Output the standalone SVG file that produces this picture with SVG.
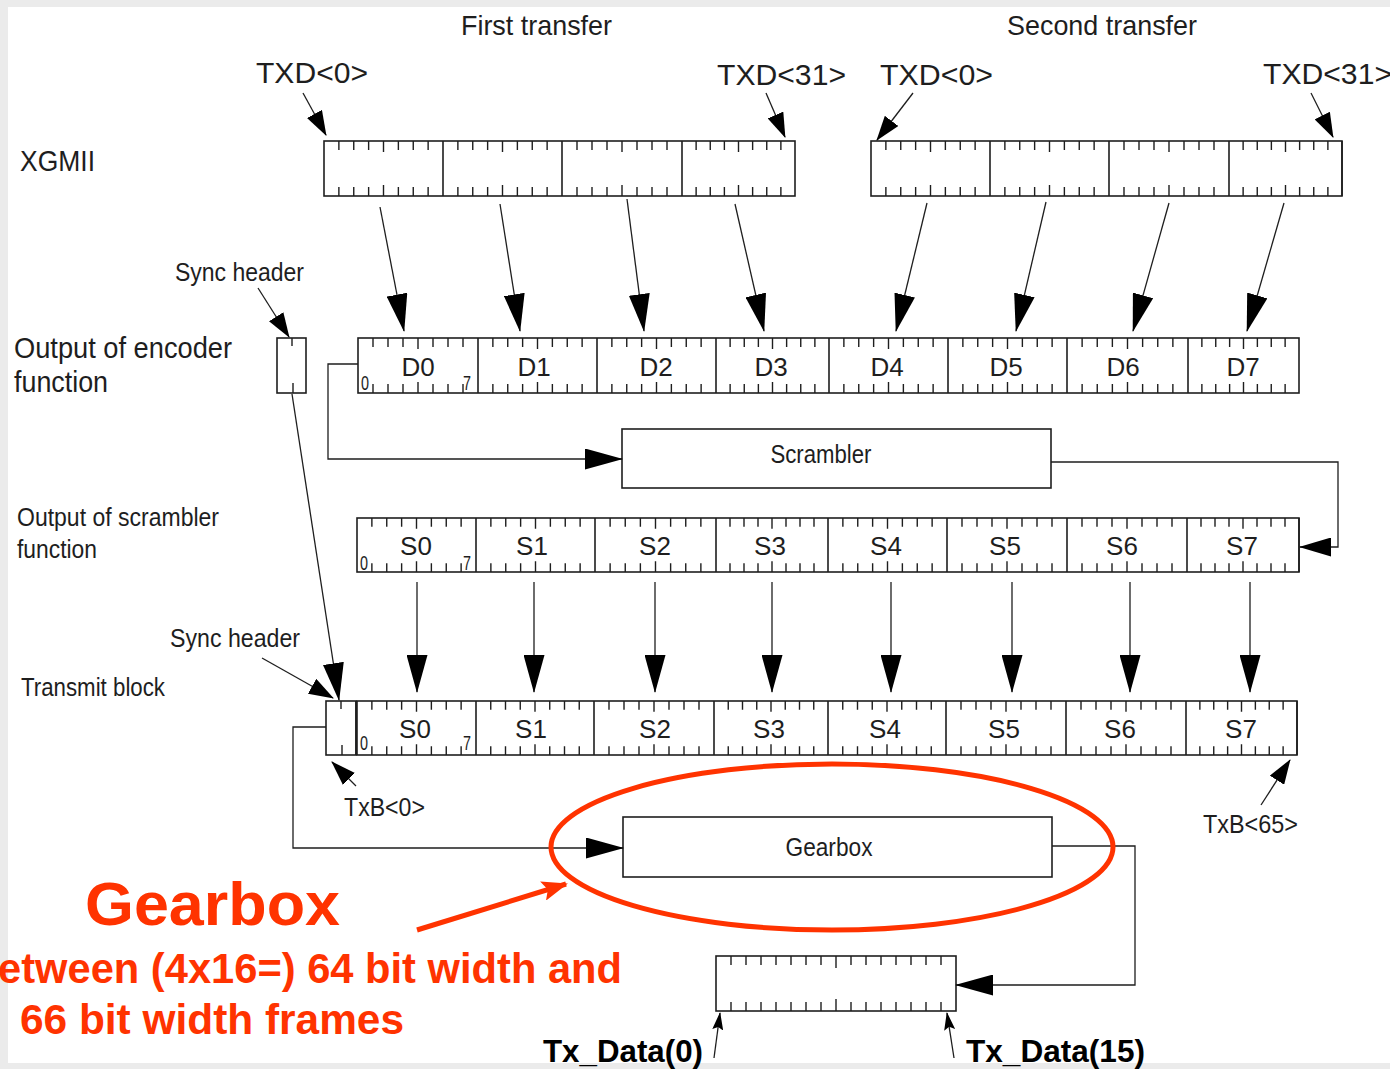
<svg xmlns="http://www.w3.org/2000/svg" xmlns:xlink="http://www.w3.org/1999/xlink" width="1390" height="1069" viewBox="0 0 1390 1069">
<defs>
<style>
.box{fill:#fff;stroke:#1e1e1e;stroke-width:1.6}
.dv{stroke:#1e1e1e;stroke-width:1.6;fill:none}
.tk{stroke:#1e1e1e;stroke-width:1.4;fill:none}
.t{font-family:"Liberation Sans",Arial,Helvetica,sans-serif;fill:#1e1e1e}
.n{font-size:21px}
.c{stroke:#1e1e1e;stroke-width:1.3;fill:none}
.red{fill:#ff3300;font-family:"Liberation Sans",Arial,Helvetica,sans-serif;font-weight:bold}
.bk{fill:#000;font-family:"Liberation Sans",Arial,Helvetica,sans-serif;font-weight:bold}
</style>
<g id="bt"><path class="tk" vector-effect="non-scaling-stroke" d="M15,0v9M30,0v9M45,0v9M60,0v11M75,0v9M90,0v9M105,0v9M15,55v-9M30,55v-9M45,55v-9M60,55v-11M75,55v-9M90,55v-9M105,55v-9"/></g>
<marker id="big" markerUnits="userSpaceOnUse" viewBox="0 0 38 21" markerWidth="38" markerHeight="21" refX="37" refY="10.5" orient="auto"><path d="M0,0L38,10.5L0,21z" fill="#000"/></marker>
<marker id="med" markerUnits="userSpaceOnUse" viewBox="0 0 32 19" markerWidth="32" markerHeight="19" refX="31" refY="9.5" orient="auto"><path d="M0,0L32,9.5L0,19z" fill="#000"/></marker>
<marker id="sm" markerUnits="userSpaceOnUse" viewBox="0 0 25 17" markerWidth="25" markerHeight="17" refX="24" refY="8.5" orient="auto"><path d="M0,0L25,8.5L0,17z" fill="#000"/></marker>
<marker id="tiny" markerUnits="userSpaceOnUse" viewBox="0 0 18 11" markerWidth="18" markerHeight="11" refX="17" refY="5.5" orient="auto"><path d="M0,0L18,5.5L0,11L3,5.5z" fill="#000"/></marker>
<marker id="redm" markerUnits="userSpaceOnUse" viewBox="0 0 26 20" markerWidth="26" markerHeight="20" refX="24" refY="10" orient="auto"><path d="M0,0L26,10L0,20L5,10z" fill="#ff3300"/></marker>
</defs>

<rect x="0" y="0" width="1390" height="1069" fill="#ebebeb"/>
<rect x="8" y="7" width="1382" height="1056" fill="#fff"/>

<g id="labels">
<text class="t" x="461" y="35" font-size="28" textLength="151" lengthAdjust="spacingAndGlyphs">First transfer</text>
<text class="t" x="1007" y="35" font-size="28" textLength="190" lengthAdjust="spacingAndGlyphs">Second transfer</text>
<text class="t" x="256" y="83" font-size="29" textLength="112" lengthAdjust="spacingAndGlyphs">TXD&lt;0&gt;</text>
<text class="t" x="717" y="85" font-size="29" textLength="129" lengthAdjust="spacingAndGlyphs">TXD&lt;31&gt;</text>
<text class="t" x="880" y="85" font-size="29" textLength="113" lengthAdjust="spacingAndGlyphs">TXD&lt;0&gt;</text>
<text class="t" x="1263" y="84" font-size="29" textLength="129" lengthAdjust="spacingAndGlyphs">TXD&lt;31&gt;</text>
<text class="t" x="20" y="171" font-size="29" textLength="75" lengthAdjust="spacingAndGlyphs">XGMII</text>
<text class="t" x="175" y="281" font-size="25" textLength="129" lengthAdjust="spacingAndGlyphs">Sync header</text>
<text class="t" x="14" y="358" font-size="29" textLength="218" lengthAdjust="spacingAndGlyphs">Output of encoder</text>
<text class="t" x="14" y="392" font-size="29" textLength="94" lengthAdjust="spacingAndGlyphs">function</text>
<text class="t" x="17" y="526" font-size="25" textLength="202" lengthAdjust="spacingAndGlyphs">Output of scrambler</text>
<text class="t" x="17" y="558" font-size="25" textLength="80" lengthAdjust="spacingAndGlyphs">function</text>
<text class="t" x="170" y="647" font-size="25" textLength="130" lengthAdjust="spacingAndGlyphs">Sync header</text>
<text class="t" x="21" y="696" font-size="25" textLength="144" lengthAdjust="spacingAndGlyphs">Transmit block</text>
<text class="t" x="344" y="816" font-size="25" textLength="81" lengthAdjust="spacingAndGlyphs">TxB&lt;0&gt;</text>
<text class="t" x="1203" y="833" font-size="25" textLength="95" lengthAdjust="spacingAndGlyphs">TxB&lt;65&gt;</text>
</g>

<g id="xgmii-first">
<rect class="box" x="324" y="141" width="471" height="55"/>
<path class="dv" d="M443,141V196M562,141V196M682,141V196"/>
<use xlink:href="#bt" transform="translate(324,141) scale(0.9917,1)"/>
<use xlink:href="#bt" transform="translate(443,141) scale(0.9917,1)"/>
<use xlink:href="#bt" transform="translate(562,141)"/>
<use xlink:href="#bt" transform="translate(682,141) scale(0.9417,1)"/>
</g>

<g id="xgmii-second">
<rect class="box" x="871" y="141" width="471" height="55"/>
<path class="dv" d="M990,141V196M1109,141V196M1229,141V196"/>
<path class="dv" stroke-width="2.4" d="M1342,141V196"/>
<use xlink:href="#bt" transform="translate(871,141) scale(0.9917,1)"/>
<use xlink:href="#bt" transform="translate(990,141) scale(0.9917,1)"/>
<use xlink:href="#bt" transform="translate(1109,141)"/>
<use xlink:href="#bt" transform="translate(1229,141) scale(0.9417,1)"/>
</g>

<g id="encoder-sync">
<rect class="box" x="277" y="338" width="29" height="55"/>
<path class="tk" d="M292,338v8M293,393v-10"/>
</g>

<g id="encoder-out">
<rect class="box" x="358" y="338" width="941" height="55"/>
<path class="dv" d="M478,338V393M597,338V393M716,338V393M829,338V393M948,338V393M1067,338V393M1188,338V393"/>
<use xlink:href="#bt" transform="translate(358,338)"/>
<use xlink:href="#bt" transform="translate(478,338) scale(0.9917,1)"/>
<use xlink:href="#bt" transform="translate(597,338) scale(0.9917,1)"/>
<use xlink:href="#bt" transform="translate(716,338) scale(0.9417,1)"/>
<use xlink:href="#bt" transform="translate(829,338) scale(0.9917,1)"/>
<use xlink:href="#bt" transform="translate(948,338) scale(0.9917,1)"/>
<use xlink:href="#bt" transform="translate(1067,338) scale(1.0083,1)"/>
<use xlink:href="#bt" transform="translate(1188,338) scale(0.925,1)"/>
<g class="t" font-size="26" text-anchor="middle">
<text x="418" y="376">D0</text><text x="534" y="376">D1</text><text x="656" y="376">D2</text><text x="771" y="376">D3</text>
<text x="887" y="376">D4</text><text x="1006" y="376">D5</text><text x="1123" y="376">D6</text><text x="1243" y="376">D7</text>
</g>
<text class="t n" x="361" y="390" textLength="8" lengthAdjust="spacingAndGlyphs">0</text>
<text class="t n" x="463" y="390" textLength="8" lengthAdjust="spacingAndGlyphs">7</text>
</g>

<g id="scrambler">
<rect class="box" x="622" y="429" width="429" height="59"/>
<text class="t" x="821" y="463" font-size="25" text-anchor="middle" textLength="101" lengthAdjust="spacingAndGlyphs">Scrambler</text>
</g>

<g id="scrambler-out">
<rect class="box" x="357" y="518" width="942" height="54"/>
<path class="dv" d="M476,518V572M595,518V572M716,518V572M828,518V572M947,518V572M1067,518V572M1187,518V572"/>
<path class="dv" stroke-width="2.4" d="M1299,518V572"/>
<use xlink:href="#bt" transform="translate(357,518) scale(0.9917,0.9818)"/>
<use xlink:href="#bt" transform="translate(476,518) scale(0.9917,0.9818)"/>
<use xlink:href="#bt" transform="translate(595,518) scale(1.0083,0.9818)"/>
<use xlink:href="#bt" transform="translate(716,518) scale(0.9333,0.9818)"/>
<use xlink:href="#bt" transform="translate(828,518) scale(0.9917,0.9818)"/>
<use xlink:href="#bt" transform="translate(947,518) scale(1,0.9818)"/>
<use xlink:href="#bt" transform="translate(1067,518) scale(1,0.9818)"/>
<use xlink:href="#bt" transform="translate(1187,518) scale(0.9333,0.9818)"/>
<g class="t" font-size="26" text-anchor="middle">
<text x="416" y="555">S0</text><text x="532" y="555">S1</text><text x="655" y="555">S2</text><text x="770" y="555">S3</text>
<text x="886" y="555">S4</text><text x="1005" y="555">S5</text><text x="1122" y="555">S6</text><text x="1242" y="555">S7</text>
</g>
<text class="t n" x="360" y="570" textLength="8" lengthAdjust="spacingAndGlyphs">0</text>
<text class="t n" x="463" y="570" textLength="8" lengthAdjust="spacingAndGlyphs">7</text>
</g>

<g id="transmit-sync">
<rect class="box" x="326" y="701" width="30" height="54"/>
<path class="tk" d="M341,701v8M342,755v-10"/>
<path class="dv" stroke-width="2.6" d="M356,701V755"/>
</g>

<g id="transmit-block">
<rect class="box" x="357" y="701" width="940" height="54"/>
<path class="dv" d="M476,701V755M594,701V755M714,701V755M828,701V755M946,701V755M1066,701V755M1186,701V755"/>
<path class="dv" stroke-width="2.6" d="M1297,701V755"/>
<use xlink:href="#bt" transform="translate(357,701) scale(0.9917,0.9818)"/>
<use xlink:href="#bt" transform="translate(476,701) scale(0.9833,0.9818)"/>
<use xlink:href="#bt" transform="translate(594,701) scale(1,0.9818)"/>
<use xlink:href="#bt" transform="translate(714,701) scale(0.95,0.9818)"/>
<use xlink:href="#bt" transform="translate(828,701) scale(0.9833,0.9818)"/>
<use xlink:href="#bt" transform="translate(946,701) scale(1,0.9818)"/>
<use xlink:href="#bt" transform="translate(1066,701) scale(1,0.9818)"/>
<use xlink:href="#bt" transform="translate(1186,701) scale(0.925,0.9818)"/>
<g class="t" font-size="26" text-anchor="middle">
<text x="415" y="738">S0</text><text x="531" y="738">S1</text><text x="655" y="738">S2</text><text x="769" y="738">S3</text>
<text x="885" y="738">S4</text><text x="1004" y="738">S5</text><text x="1120" y="738">S6</text><text x="1241" y="738">S7</text>
</g>
<text class="t n" x="360" y="750" textLength="8" lengthAdjust="spacingAndGlyphs">0</text>
<text class="t n" x="463" y="750" textLength="8" lengthAdjust="spacingAndGlyphs">7</text>
</g>

<g id="gearbox">
<rect class="box" x="623" y="817" width="429" height="60"/>
<text class="t" x="829" y="856" font-size="25" text-anchor="middle" textLength="87" lengthAdjust="spacingAndGlyphs">Gearbox</text>
</g>

<g id="tx-data">
<rect class="box" x="716" y="956" width="240" height="55"/>
<path class="tk" d="M731,956v9M746,956v9M761,956v9M776,956v9M791,956v9M806,956v9M821,956v9M836,956v12M851,956v9M866,956v9M881,956v9M896,956v9M911,956v9M926,956v9M941,956v9M731,1011v-9M746,1011v-9M761,1011v-9M776,1011v-9M791,1011v-9M806,1011v-9M821,1011v-9M836,1011v-12M851,1011v-9M866,1011v-9M881,1011v-9M896,1011v-9M911,1011v-9M926,1011v-9M941,1011v-9"/>
<text class="bk" x="543" y="1062" font-size="32" textLength="160" lengthAdjust="spacingAndGlyphs">Tx_Data(0)</text>
<text class="bk" x="966" y="1062" font-size="32" textLength="179" lengthAdjust="spacingAndGlyphs">Tx_Data(15)</text>
</g>

<g id="connectors">
<path class="c" marker-end="url(#sm)" d="M303,93L326,135"/>
<path class="c" marker-end="url(#sm)" d="M766,93L785,137"/>
<path class="c" marker-end="url(#sm)" d="M913,93L877,140"/>
<path class="c" marker-end="url(#sm)" d="M1311,93L1333,137"/>
<path class="c" marker-end="url(#big)" d="M380,207L404,331"/>
<path class="c" marker-end="url(#big)" d="M500,204L520,331"/>
<path class="c" marker-end="url(#big)" d="M627,199L644,331"/>
<path class="c" marker-end="url(#big)" d="M735,204L764,331"/>
<path class="c" marker-end="url(#big)" d="M927,203L896,331"/>
<path class="c" marker-end="url(#big)" d="M1046,202L1016,331"/>
<path class="c" marker-end="url(#big)" d="M1169,203L1133,331"/>
<path class="c" marker-end="url(#big)" d="M1284,203L1247,331"/>
<path class="c" marker-end="url(#sm)" d="M258,288L289,337"/>
<path class="c" marker-end="url(#big)" d="M358,364H328V459H622"/>
<path class="c" marker-end="url(#med)" d="M1051,462H1338V547H1300"/>
<path class="c" marker-end="url(#big)" d="M417,582V692"/>
<path class="c" marker-end="url(#big)" d="M534,582V692"/>
<path class="c" marker-end="url(#big)" d="M655,582V692"/>
<path class="c" marker-end="url(#big)" d="M772,582V692"/>
<path class="c" marker-end="url(#big)" d="M891,582V692"/>
<path class="c" marker-end="url(#big)" d="M1012,582V692"/>
<path class="c" marker-end="url(#big)" d="M1130,582V692"/>
<path class="c" marker-end="url(#big)" d="M1250,582V692"/>
<path class="c" stroke-width="1.1" marker-end="url(#big)" d="M292,394L339,700"/>
<path class="c" marker-end="url(#sm)" d="M262,658L333,698"/>
<path class="c" marker-end="url(#sm)" d="M356,786L332,762"/>
<path class="c" marker-end="url(#sm)" d="M1261,805L1290,760"/>
<path class="c" marker-end="url(#big)" d="M326,727H293V848H623"/>
<path class="c" marker-end="url(#big)" d="M1052,846H1135V985H956"/>
<path class="c" stroke-width="1" marker-end="url(#tiny)" d="M714,1058L720,1013"/>
<path class="c" stroke-width="1" marker-end="url(#tiny)" d="M954,1058L947,1013"/>
</g>

<g id="annotation">
<ellipse cx="832" cy="847" rx="281" ry="83" fill="none" stroke="#ff3300" stroke-width="5"/>
<path d="M417,930L566,884" stroke="#ff3300" stroke-width="5" fill="none" marker-end="url(#redm)"/>
<text class="red" x="85" y="925" font-size="62" textLength="255" lengthAdjust="spacingAndGlyphs">Gearbox</text>
<text class="red" x="-2" y="983" font-size="43" textLength="624" lengthAdjust="spacingAndGlyphs">etween (4x16=) 64 bit width and</text>
<text class="red" x="20" y="1034" font-size="43" textLength="384" lengthAdjust="spacingAndGlyphs">66 bit width frames</text>
</g>
</svg>
